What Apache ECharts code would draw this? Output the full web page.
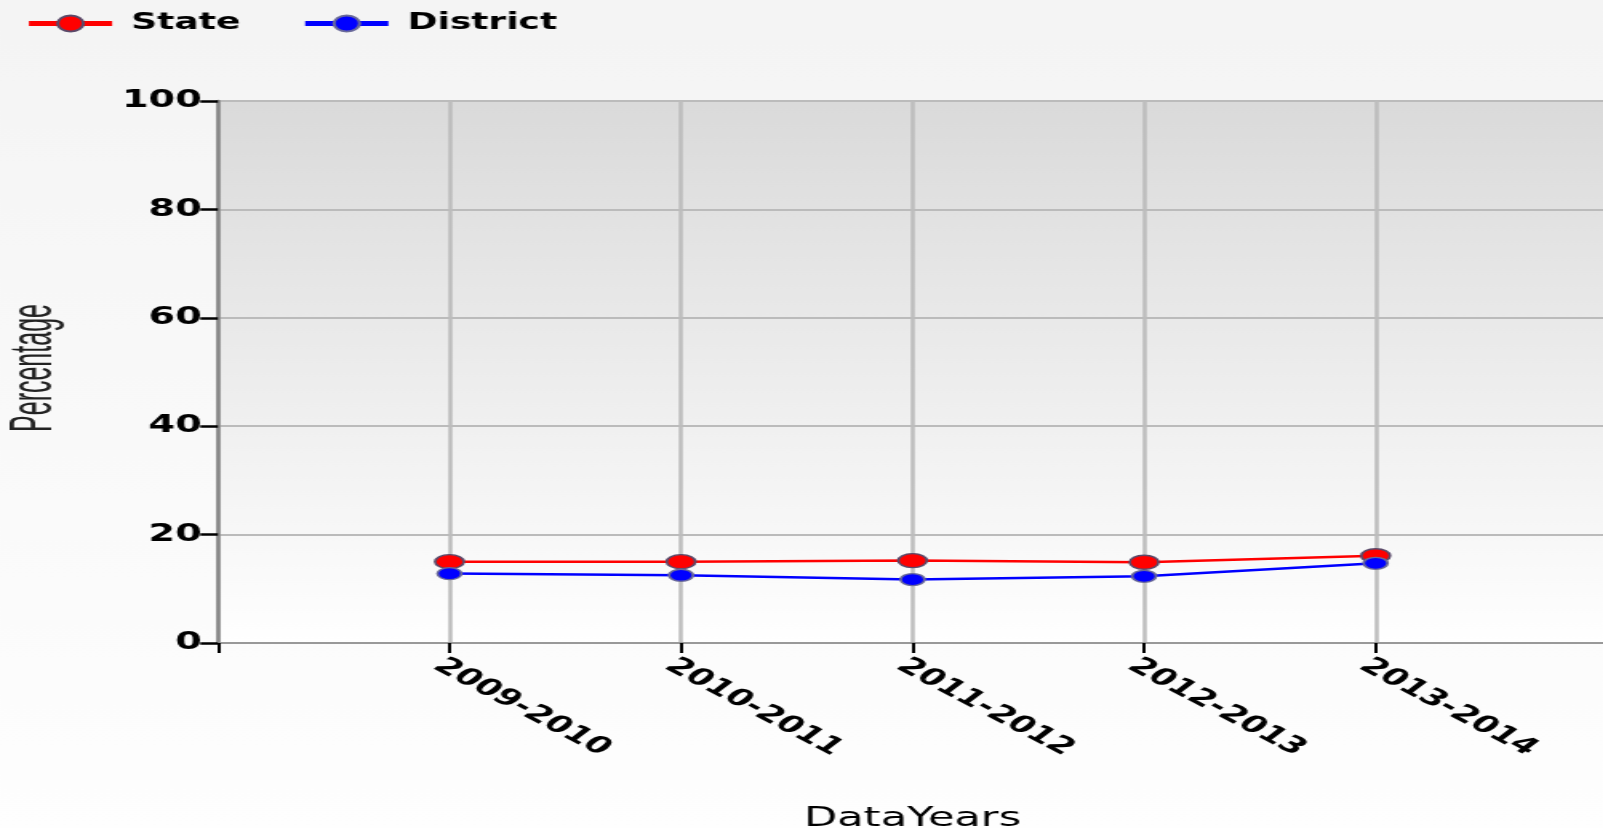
<!DOCTYPE html>
<html>
<head>
<meta charset="utf-8">
<script src="https://cdn.jsdelivr.net/npm/echarts@6/dist/echarts.min.js"></script>
<style>
html,body{margin:0;padding:0;overflow:hidden;background:#f8f8f8;}
#main{width:1002px;height:828px;transform:scaleX(1.6);transform-origin:0 0;}
</style>
</head>
<body>
<div id="main"></div>
<script>
const categories = ['', '2009-2010', '2010-2011', '2011-2012', '2012-2013', '2013-2014', ''];
const stateValues = [null, 15.0, 15.0, 15.2, 14.9, 16.1, null];
const districtValues = [null, 12.8, 12.5, 11.7, 12.3, 14.7, null];
const yTicks = { min: 0, max: 100, interval: 20 };

const chart = echarts.init(document.getElementById('main'), null, { renderer: 'canvas' });
chart.setOption({
  animation: false,
  backgroundColor: { type: 'linear', x: 0, y: 0, x2: 0, y2: 1,
    colorStops: [{ offset: 0, color: '#f4f4f4' }, { offset: 1, color: '#fefefe' }] },
  legend: {
    left: 10.6, top: 7, itemWidth: 52, itemHeight: 20, itemGap: 38,
    textStyle: { fontFamily: 'DejaVu Sans', fontWeight: 'bold', fontSize: 22.5, color: '#000', padding: [0, 0, 0, 7] },
    lineStyle: { width: 5 },
    data: ['State', 'District']
  },
  grid: {
    left: 136.25, right: -2.5, top: 101, bottom: 185, show: true,
    outerBoundsMode: 'none',
    borderColor: '#999', borderWidth: 2,
    backgroundColor: { type: 'linear', x: 0, y: 0, x2: 0, y2: 1,
      colorStops: [{ offset: 0, color: '#dadada' }, { offset: 1, color: '#ffffff' }] }
  },
  graphic: [{
    type: 'text', x: 21.5, y: 368, rotation: Math.PI / 2, scaleY: 1.5,
    style: { text: 'Percentage', font: '25px "Liberation Sans"', fill: '#222',
      textAlign: 'center', textVerticalAlign: 'middle' }
  }],
  xAxis: {
    type: 'category', data: categories, boundaryGap: false,
    name: 'DataYears', nameLocation: 'middle', nameGap: 162,
    nameTextStyle: { fontFamily: 'DejaVu Sans', fontSize: 27, color: '#000' },
    axisLine: { lineStyle: { color: '#999', width: 2 } },
    axisTick: { show: true, length: 10, lineStyle: { color: '#000', width: 2 } },
    axisLabel: { rotate: -40, margin: 11, align: 'left', verticalAlign: 'top',
      fontFamily: 'DejaVu Sans', fontWeight: 'bold', fontSize: 23, color: '#000', interval: 0 },
    splitLine: { show: true, lineStyle: { color: '#bdbdbd', width: 2.5 } }
  },
  yAxis: {
    type: 'value', min: yTicks.min, max: yTicks.max, interval: yTicks.interval,
    axisLine: { show: true, lineStyle: { color: '#888', width: 2.5 } },
    axisTick: { show: true, length: 11, lineStyle: { color: '#000', width: 2.5 } },
    axisLabel: { margin: 10, fontFamily: 'DejaVu Sans', fontWeight: 'bold', fontSize: 24, color: '#000' },
    splitLine: { show: true, lineStyle: { color: '#bbb', width: 2 } }
  },
  series: [
    { name: 'State', type: 'line', data: stateValues, connectNulls: false,
      symbol: 'circle', symbolSize: [18, 14],
      lineStyle: { color: '#ff0000', width: 2.5 },
      itemStyle: { color: '#ff0000', borderColor: '#5a4a6a', borderWidth: 1.5 } },
    { name: 'District', type: 'line', data: districtValues, connectNulls: false,
      symbol: 'circle', symbolSize: [15, 12],
      lineStyle: { color: '#0000ff', width: 2.5 },
      itemStyle: { color: '#0000ff', borderColor: '#6a6a9a', borderWidth: 1.5 } }
  ]
});
</script>
</body>
</html>
